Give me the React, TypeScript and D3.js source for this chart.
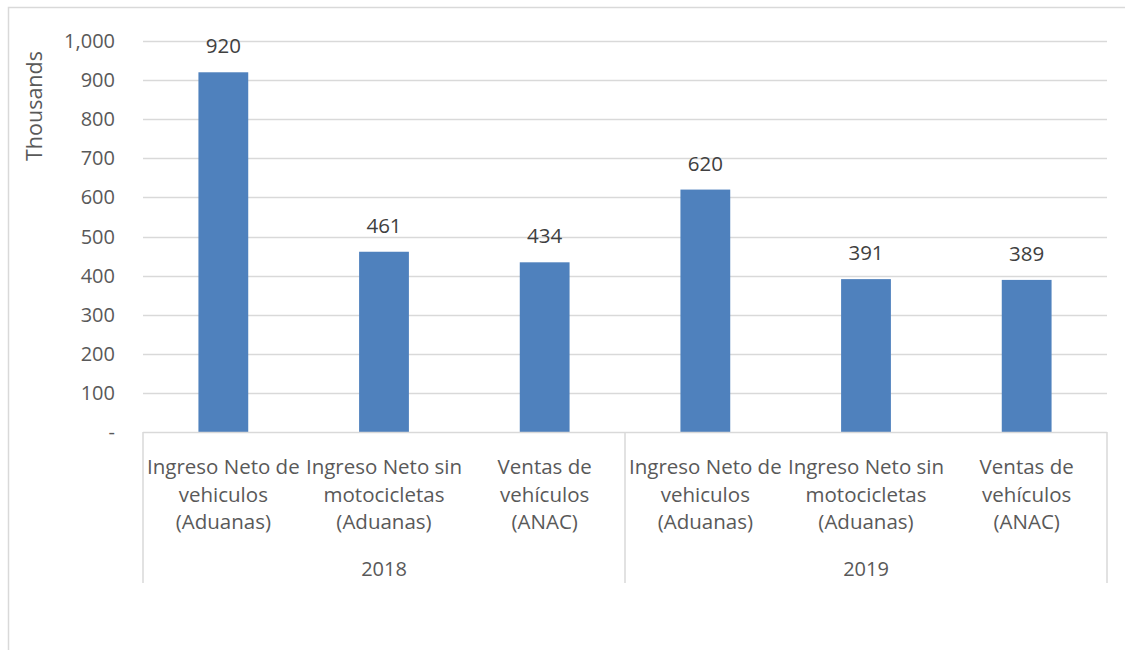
import React, { useEffect, useRef } from "react";
import * as d3 from "d3";

const years = ["2018", "2019"];
const categories = [
  ["Ingreso Neto de", "vehiculos", "(Aduanas)"],
  ["Ingreso Neto sin", "motocicletas", "(Aduanas)"],
  ["Ventas de", "vehículos", "(ANAC)"],
];
const values2018 = [920, 461, 434];
const values2019 = [620, 391, 389];
const yTicks = [0, 100, 200, 300, 400, 500, 600, 700, 800, 900, 1000];

export default function App() {
  const svgRef = useRef<SVGSVGElement>(null);

  useEffect(() => {
    const svg = d3.select(svgRef.current);
    svg.selectAll("*").remove();

    const width = 1125;
    const height = 650;
    const margin = { top: 41, right: 18, bottom: 218, left: 143 };
    const font = "'Open Sans', 'Noto Sans', sans-serif";
    const grid = "#d9d9d9";

    const rows = years.flatMap((yr, gi) =>
      categories.map((lines, ci) => ({
        key: `${yr}-${ci}`,
        year: yr,
        lines,
        value: (gi === 0 ? values2018 : values2019)[ci],
      }))
    );

    const x = d3
      .scaleBand()
      .domain(rows.map((d) => d.key))
      .range([margin.left, width - margin.right])
      .paddingInner(0.69)
      .paddingOuter(0.345);

    const y = d3
      .scaleLinear()
      .domain([0, 1000])
      .range([height - margin.bottom, margin.top]);

    const step = x.step();
    const x0 = margin.left;
    const x1 = width - margin.right;
    const y0 = y(0);

    // outer chart border
    svg
      .append("path")
      .attr("d", `M8.5,${height} V7.5 H${width}`)
      .attr("fill", "none")
      .attr("stroke", grid)
      .attr("stroke-width", 1.5);

    // gridlines
    svg
      .append("g")
      .selectAll("line")
      .data(yTicks.filter((t) => t > 0))
      .enter()
      .append("line")
      .attr("x1", x0)
      .attr("x2", x1)
      .attr("y1", (d) => Math.round(y(d)) + 0.5)
      .attr("y2", (d) => Math.round(y(d)) + 0.5)
      .attr("stroke", grid)
      .attr("stroke-width", 1.3);

    // y tick labels
    svg
      .append("g")
      .selectAll("text")
      .data(yTicks)
      .enter()
      .append("text")
      .attr("x", 115)
      .attr("y", (d) => y(d))
      .attr("dy", "0.35em")
      .attr("text-anchor", "end")
      .attr("font-family", font)
      .attr("font-size", 20)
      .attr("fill", "#595959")
      .text((d) => (d === 0 ? "-" : d3.format(",")(d)));

    // y-axis title
    svg
      .append("text")
      .attr("transform", `translate(42,106) rotate(-90)`)
      .attr("text-anchor", "middle")
      .attr("font-family", font)
      .attr("font-size", 21.5)
      .attr("fill", "#595959")
      .text("Thousands");

    // bars
    svg
      .append("g")
      .selectAll("rect")
      .data(rows)
      .enter()
      .append("rect")
      .attr("x", (d) => x(d.key)!)
      .attr("y", (d) => y(d.value))
      .attr("width", x.bandwidth())
      .attr("height", (d) => y0 - y(d.value))
      .attr("fill", "#4f81bd");

    // value labels
    svg
      .append("g")
      .selectAll("text")
      .data(rows)
      .enter()
      .append("text")
      .attr("x", (d) => x(d.key)! + x.bandwidth() / 2)
      .attr("y", (d) => y(d.value) - 19)
      .attr("text-anchor", "middle")
      .attr("font-family", font)
      .attr("font-size", 20.5)
      .attr("fill", "#404040")
      .text((d) => d.value);

    // x axis line and group separators
    const axis = svg.append("g").attr("stroke", grid).attr("stroke-width", 1.5);
    axis
      .append("line")
      .attr("x1", x0)
      .attr("x2", x1)
      .attr("y1", y0 + 0.5)
      .attr("y2", y0 + 0.5);
    [0, 3, 6].forEach((i) => {
      const xx = x0 + i * step;
      axis
        .append("line")
        .attr("x1", xx)
        .attr("x2", xx)
        .attr("y1", y0)
        .attr("y2", 583);
    });

    // category labels
    const cat = svg
      .append("g")
      .selectAll("text")
      .data(rows)
      .enter()
      .append("text")
      .attr("text-anchor", "middle")
      .attr("font-family", font)
      .attr("font-size", 20.5)
      .attr("fill", "#595959");
    cat
      .selectAll("tspan")
      .data((d) => d.lines.map((l) => ({ l, cx: x(d.key)! + x.bandwidth() / 2 })))
      .enter()
      .append("tspan")
      .attr("x", (d) => d.cx)
      .attr("y", (_d, i) => 474 + i * 27.5)
      .text((d) => d.l);

    // year labels
    svg
      .append("g")
      .selectAll("text")
      .data(years)
      .enter()
      .append("text")
      .attr("x", (_d, i) => x0 + (i * 3 + 1.5) * step)
      .attr("y", 576)
      .attr("text-anchor", "middle")
      .attr("font-family", font)
      .attr("font-size", 20)
      .attr("fill", "#595959")
      .text((d) => d);
  }, []);

  return (
    <svg
      ref={svgRef}
      width={1125}
      height={650}
      style={{ position: "absolute", left: 0, top: 0, background: "#fff" }}
    />
  );
}
